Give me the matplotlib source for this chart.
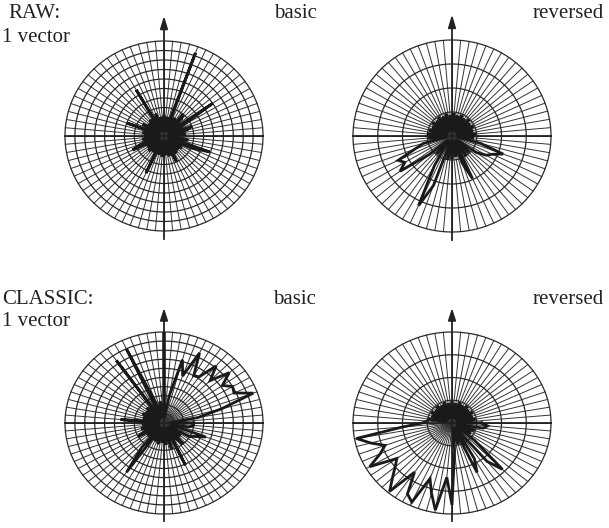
import numpy as np
import matplotlib.pyplot as plt

W, H, DPI = 609, 528, 100

# radius per direction, one value every 5 degrees starting at 0 (east), counter-clockwise
ANGLES_DEG = np.arange(0, 360, 5)

RAW_BASIC = [
    0.05, 0.22, 0.06, 0.24, 0.30, 0.06, 0.22, 0.60, 0.05, 0.25, 0.30, 0.06,
    0.22, 0.05, 0.93, 0.06, 0.20, 0.05, 0.22, 0.06, 0.20, 0.05, 0.25, 0.06,
    0.56, 0.05, 0.22, 0.06, 0.20, 0.05, 0.25, 0.06, 0.40, 0.05, 0.22, 0.06,
    0.20, 0.05, 0.22, 0.06, 0.25, 0.35, 0.05, 0.20, 0.06, 0.22, 0.05, 0.20,
    0.06, 0.43, 0.05, 0.20, 0.06, 0.22, 0.05, 0.20, 0.06, 0.22, 0.05, 0.30,
    0.06, 0.22, 0.05, 0.20, 0.06, 0.22, 0.05, 0.30, 0.49, 0.06, 0.25, 0.05,
]
RAW_REVERSED = [
    0.06, 0.24, 0.05, 0.22, 0.06, 0.24, 0.05, 0.22, 0.06, 0.24, 0.05, 0.22,
    0.06, 0.24, 0.05, 0.22, 0.06, 0.24, 0.05, 0.22, 0.06, 0.24, 0.05, 0.22,
    0.06, 0.24, 0.05, 0.22, 0.06, 0.24, 0.05, 0.22, 0.06, 0.24, 0.05, 0.25,
    0.06, 0.24, 0.05, 0.30, 0.40, 0.60, 0.55, 0.64, 0.30, 0.06, 0.24, 0.05,
    0.35, 0.80, 0.55, 0.06, 0.25, 0.05, 0.24, 0.06, 0.22, 0.05, 0.30, 0.49,
    0.06, 0.25, 0.05, 0.24, 0.06, 0.30, 0.40, 0.45, 0.55, 0.30, 0.05, 0.22,
]
CLASSIC_BASIC = [
    0.30, 0.06, 0.35, 0.60, 0.96, 0.78, 0.80, 0.72, 0.86, 0.66, 0.82, 0.62,
    0.60, 0.85, 0.55, 0.72, 0.30, 0.06, 1.00, 0.05, 0.24, 0.06, 0.24, 0.90,
    0.06, 0.84, 0.06, 0.24, 0.05, 0.22, 0.06, 0.24, 0.05, 0.22, 0.06, 0.44,
    0.05, 0.22, 0.06, 0.24, 0.05, 0.22, 0.30, 0.06, 0.22, 0.05, 0.35, 0.66,
    0.06, 0.22, 0.05, 0.24, 0.06, 0.22, 0.05, 0.24, 0.06, 0.30, 0.05, 0.51,
    0.06, 0.22, 0.30, 0.05, 0.22, 0.06, 0.30, 0.35, 0.45, 0.06, 0.25, 0.30,
]
CLASSIC_REVERSED = [
    0.30, 0.06, 0.24, 0.05, 0.22, 0.06, 0.24, 0.05, 0.22, 0.06, 0.24, 0.05,
    0.22, 0.06, 0.24, 0.05, 0.22, 0.06, 0.24, 0.05, 0.22, 0.06, 0.24, 0.05,
    0.22, 0.06, 0.24, 0.05, 0.22, 0.06, 0.24, 0.05, 0.22, 0.06, 0.24, 0.25,
    0.30, 0.50, 0.98, 0.85, 0.72, 0.80, 0.96, 0.68, 0.75, 0.85, 0.98, 0.66,
    0.90, 0.96, 0.65, 0.80, 0.97, 0.60, 0.90, 0.30, 0.05, 0.24, 0.06, 0.60,
    0.45, 0.06, 0.55, 0.72, 0.30, 0.05, 0.22, 0.06, 0.24, 0.05, 0.32, 0.36,
]

PANELS = [
    # (values, rings, centre x px, centre y px, y radius px)
    (RAW_BASIC, 10, 164, 136, 95),
    (RAW_REVERSED, 4, 452, 136, 96),
    (CLASSIC_BASIC, 10, 164, 423, 91),
    (CLASSIC_REVERSED, 4, 452, 423, 91),
]
RX = 99  # horizontal radius in px

plt.rcParams['font.family'] = ['Liberation Serif', 'DejaVu Serif']

fig = plt.figure(figsize=(W / DPI, H / DPI), dpi=DPI)
fig.patch.set_facecolor('white')

theta = np.deg2rad(ANGLES_DEG)
circ = np.linspace(0, 2 * np.pi, 361)

for values, rings, cx, cy, ry in PANELS:
    lim = 1.35
    aw, ah = 2 * lim * RX, 2 * lim * ry
    ax = fig.add_axes([(cx - aw / 2) / W, 1 - (cy + ah / 2) / H, aw / W, ah / H])
    ax.set_xlim(-lim, lim)
    ax.set_ylim(-lim, lim)
    ax.axis('off')

    # spokes every 5 degrees
    for t in theta:
        ax.plot([0, np.cos(t)], [0, np.sin(t)], color='#333333', lw=0.7, zorder=1)
    # concentric rings
    for k in range(1, rings + 1):
        r = k / rings
        ax.plot(r * np.cos(circ), r * np.sin(circ), color='#2a2a2a', lw=0.9, zorder=1)

    # axes with arrow on the vertical one
    ax.plot([-1, 1], [0, 0], color='#222222', lw=1.3, zorder=2)
    ax.plot([0, 0], [-1.08, 1.15], color='#222222', lw=1.3, zorder=2)
    ax.fill([-0.035, 0.035, 0], [1.12, 1.12, 1.24], color='#222222', zorder=2)

    # the star line
    r = np.array(values)
    xs = r * np.cos(theta)
    ys = r * np.sin(theta)
    ax.plot(np.append(xs, xs[0]), np.append(ys, ys[0]), color='#1a1a1a', lw=2.0,
            solid_joinstyle='miter', zorder=3)

fs = 15
fig.text(8 / W, 1 - 14 / H, 'RAW:', fontsize=fs, va='center', ha='left', color='#222222')
fig.text(2 / W, 1 - 37 / H, '1 vector', fontsize=fs, va='center', ha='left', color='#222222')
fig.text(274 / W, 1 - 13 / H, 'basic', fontsize=fs, va='center', ha='left', color='#222222')
fig.text(533 / W, 1 - 13 / H, 'reversed', fontsize=fs, va='center', ha='left', color='#222222')
fig.text(2 / W, 1 - 300 / H, 'CLASSIC:', fontsize=fs, va='center', ha='left', color='#222222')
fig.text(2 / W, 1 - 322 / H, '1 vector', fontsize=fs, va='center', ha='left', color='#222222')
fig.text(273 / W, 1 - 300 / H, 'basic', fontsize=fs, va='center', ha='left', color='#222222')
fig.text(533 / W, 1 - 300 / H, 'reversed', fontsize=fs, va='center', ha='left', color='#222222')

fig.savefig('out.png', dpi=DPI)
